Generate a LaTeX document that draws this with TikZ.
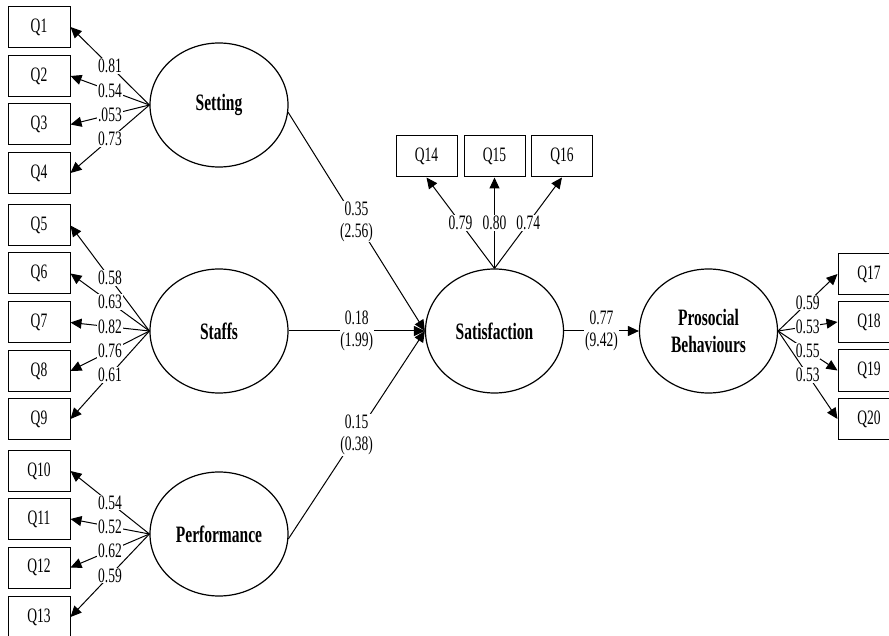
\documentclass[tikz,border=0pt]{standalone}
\usepackage{fontspec}
\setmainfont{Liberation Serif}[FakeStretch=0.66]
\usetikzlibrary{arrows.meta,shapes.geometric}
\tikzset{
    item/.style={draw, line width=1pt, minimum width=62pt, minimum height=41pt,
                 inner sep=0pt, font=\fontsize{20.5}{22}\selectfont},
    latent/.style={ellipse, draw, line width=1.2pt, minimum width=138pt,
                   minimum height=124pt, inner sep=0pt, align=center,
                   font=\fontsize{23.5}{27}\selectfont\bfseries},
    load/.style={-{Triangle[length=11pt,width=10pt]}, line width=1pt},
    path/.style={load},
    coef/.style={fill=white, inner sep=0.8pt, align=center,
                 font=\fontsize{20.5}{22}\selectfont},
}

\begin{document}
\begin{tikzpicture}[x=1pt,y=-1pt]
    \useasboundingbox (0,0) rectangle (889,636);

    % latent variables
    \node[latent] (setting) at (219,105) {Setting};
    \node[latent] (staffs) at (219,331) {Staffs};
    \node[latent] (performance) at (219,534) {Performance};
    \node[latent] (satisfaction) at (494.5,331) {Satisfaction};
    \node[latent] (prosocial) at (708.5,331) {Prosocial\\Behaviours};

    % indicators
    \foreach \n/\y in {1/27,2/76,3/124.5,4/173,5/225.5,6/273.5,7/322.5,
                       8/371,9/419,10/471,11/519,12/567.5,13/617}
        \node[item] (q\n) at (39,\y) {Q\n};
    \node[item, minimum width=61pt] (q14) at (426.5,156.5) {Q14};
    \node[item, minimum width=61pt] (q15) at (494.5,156.5) {Q15};
    \node[item, minimum width=61pt] (q16) at (562,156.5) {Q16};
    \foreach \n/\y in {17/274,18/322,19/370.5,20/419}
        \node[item] (q\n) at (869,\y) {Q\n};

    % loadings
    \foreach \n/\v in {1/0.81,2/0.54,3/.053,4/0.73}
        \draw[load] (setting.west) -- node[coef] {\v} (q\n.east);
    \foreach \n/\v in {5/0.58,6/0.63,7/0.82,8/0.76,9/0.61}
        \draw[load] (staffs.west) -- node[coef] {\v} (q\n.east);
    \foreach \n/\v in {10/0.54,11/0.52,12/0.62,13/0.59}
        \draw[load] (performance.west) -- node[coef] {\v} (q\n.east);
    \foreach \n/\v in {14/0.79,15/0.80,16/0.74}
        \draw[load] (satisfaction.north) -- node[coef] {\v} (q\n.south);
    \foreach \n/\v in {17/0.59,18/0.53,19/0.55,20/0.53}
        \draw[load] (prosocial.east) -- node[coef] {\v} (q\n.west);

    % structural paths
    \draw[path] (setting.-6) -- node[coef] {0.35\\(2.56)} (satisfaction.west);
    \draw[path] (staffs.east) -- node[coef] {0.18\\(1.99)} (satisfaction.west);
    \draw[path] (performance.-4) -- node[coef] {0.15\\(0.38)} (satisfaction.west);
    \draw[path] (satisfaction.east) -- node[coef] {0.77\\(9.42)} (prosocial.west);

\end{tikzpicture}
\end{document}
